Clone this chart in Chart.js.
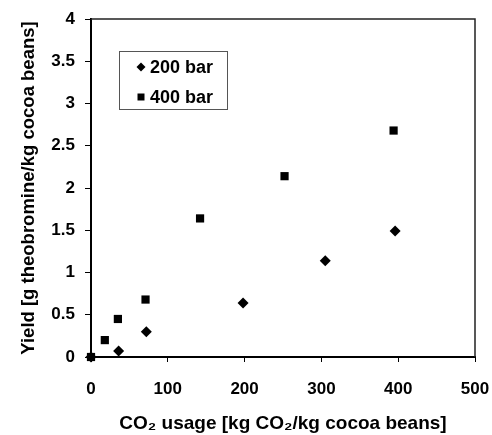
<!DOCTYPE html>
<html>
<head>
<meta charset="utf-8">
<script src="https://cdn.jsdelivr.net/npm/chart.js@4/dist/chart.umd.min.js"></script>
<style>
  html, body { margin: 0; padding: 0; background: #fff; }
  #wrap { width: 492px; height: 435px; }
</style>
</head>
<body>
<div id="wrap"><canvas id="yieldChart"></canvas></div>
<script>
'use strict';

// CO2 usage [kg CO2/kg cocoa beans] and theobromine yield for each pressure
const usage200 = [0, 36, 72, 198, 305, 396];
const yield200 = [0, 0.07, 0.30, 0.64, 1.14, 1.49];
const usage400 = [0, 18, 35, 71, 142, 252, 394];
const yield400 = [0, 0.20, 0.45, 0.68, 1.64, 2.14, 2.68];

const seriesLabels = ['200 bar', '400 bar'];
const xTicks = [0, 100, 200, 300, 400, 500];
const yTicks = [0, 0.5, 1, 1.5, 2, 2.5, 3, 3.5, 4];

const FONT = 'Arial, "Liberation Sans", sans-serif';

function toPoints(xs, ys) {
    return xs.map((x, i) => ({ x: x, y: ys[i] }));
}

// box around the plot plus a legend sitting inside the upper left corner
const frameAndLegend = {
    id: 'frameAndLegend',
    afterDatasetsDraw(chart) {
        const { ctx, chartArea: a } = chart;
        ctx.save();
        ctx.strokeStyle = '#222';
        ctx.lineWidth = 1.5;
        ctx.beginPath();
        ctx.moveTo(a.left, a.top);
        ctx.lineTo(a.right, a.top);
        ctx.lineTo(a.right, a.bottom);
        ctx.stroke();

        const bx = a.left + 28, by = a.top + 32, bw = 108, bh = 58;
        ctx.fillStyle = '#fff';
        ctx.fillRect(bx, by, bw, bh);
        ctx.strokeStyle = '#555';
        ctx.lineWidth = 1;
        ctx.strokeRect(bx + 0.5, by + 0.5, bw, bh);

        ctx.font = 'bold 18px ' + FONT;
        ctx.textBaseline = 'middle';
        ctx.fillStyle = '#000';
        chart.data.datasets.forEach((ds, i) => {
            const cy = by + 16 + i * 30;
            const cx = bx + 22;
            ctx.beginPath();
            if (ds.pointStyle === 'rectRot') {
                ctx.moveTo(cx, cy - 4.5);
                ctx.lineTo(cx + 4.5, cy);
                ctx.lineTo(cx, cy + 4.5);
                ctx.lineTo(cx - 4.5, cy);
            } else {
                ctx.rect(cx - 3.5, cy - 3.5, 7, 7);
            }
            ctx.closePath();
            ctx.fill();
            ctx.fillText(ds.label, bx + 31, cy + 1);
        });
        ctx.restore();
    }
};

new Chart(document.getElementById('yieldChart'), {
    type: 'scatter',
    data: {
        datasets: [{
            label: seriesLabels[0],
            data: toPoints(usage200, yield200),
            pointStyle: 'rectRot',
            pointRadius: 5.5,
            backgroundColor: '#000',
            borderColor: '#000',
            borderWidth: 0,
            clip: false
        }, {
            label: seriesLabels[1],
            data: toPoints(usage400, yield400),
            pointStyle: 'rect',
            pointRadius: 5.8,
            backgroundColor: '#000',
            borderColor: '#000',
            borderWidth: 0,
            clip: false
        }]
    },
    options: {
        responsive: true,
        maintainAspectRatio: false,
        animation: false,
        layout: { padding: { top: 19, right: 17, left: 0, bottom: 0 } },
        plugins: {
            legend: { display: false },
            tooltip: { enabled: false }
        },
        scales: {
            x: {
                type: 'linear',
                min: 0,
                max: 500,
                afterBuildTicks: (scale) => { scale.ticks = xTicks.map(v => ({ value: v })); },
                afterFit: (scale) => {
                    scale.height = 78;
                    scale.paddingLeft = 0;
                    scale.paddingRight = 0;
                },
                border: { color: '#000', width: 2 },
                grid: { drawOnChartArea: false, tickLength: 5, color: '#000', tickWidth: 1 },
                ticks: {
                    color: '#000',
                    padding: 17,
                    font: { family: FONT, size: 17, weight: 'bold' },
                    callback: (v) => String(v)
                },
                title: {
                    display: true,
                    text: 'CO₂ usage [kg CO₂/kg cocoa beans]',
                    color: '#000',
                    padding: { top: 14, bottom: 0 },
                    font: { family: FONT, size: 19, weight: 'bold' }
                }
            },
            y: {
                type: 'linear',
                min: 0,
                max: 4,
                afterBuildTicks: (scale) => { scale.ticks = yTicks.map(v => ({ value: v })); },
                afterFit: (scale) => {
                    scale.width = 91;
                    scale.paddingTop = 0;
                    scale.paddingBottom = 0;
                },
                border: { color: '#000', width: 2 },
                grid: { drawOnChartArea: false, tickLength: 6, color: '#000', tickWidth: 1 },
                ticks: {
                    color: '#000',
                    padding: 10,
                    font: { family: FONT, size: 17, weight: 'bold' },
                    callback: (v) => String(v)
                },
                title: {
                    display: true,
                    text: 'Yield [g theobromine/kg cocoa beans]',
                    color: '#000',
                    padding: { top: 18, bottom: 0 },
                    font: { family: FONT, size: 18.5, weight: 'bold' }
                }
            }
        }
    },
    plugins: [frameAndLegend]
});
</script>
</body>
</html>
